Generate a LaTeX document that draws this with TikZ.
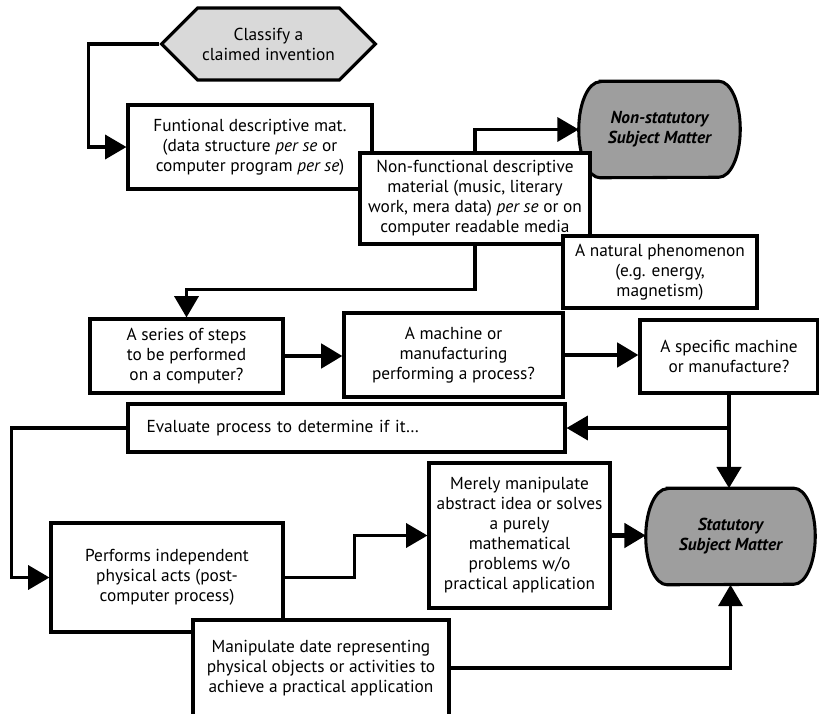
\documentclass[tikz,border=0pt]{standalone}
\usepackage{fontspec}
\setmainfont{PT Sans}
\usetikzlibrary{arrows.meta,shapes.symbols,backgrounds}

\tikzset{
  box/.style={draw, line width=2.3pt, fill=white, align=center, inner sep=2pt},
  start/.style={signal, signal to=west and east, signal pointer angle=90, draw, line width=2.3pt, fill=black!15, align=center},
  term/.style={align=center, font=\fontsize{13}{15}\selectfont\bfseries\itshape, minimum height=72pt},
  termline/.style={draw, line width=2.3pt, fill=black!38},
  link/.style={line width=2.6pt, -{Triangle[length=16pt,width=18pt]}},
  biglink/.style={link, line width=3.6pt},
}

\begin{document}
\begin{tikzpicture}[x=0.75pt, y=-0.75pt, font=\fontsize{13}{15}\selectfont]
\useasboundingbox (0,0) rectangle (819,714);

\node[start, minimum width=152.25pt, minimum height=54pt] (classify) at (268.5,44) {Classify a\\claimed invention};
\node[box, minimum width=183pt, minimum height=63pt] (func) at (250,147) {Funtional descriptive mat.\\(data structure \emph{per se} or\\computer program \emph{per se})};
\node[term, minimum width=120.75pt] (nonstat) at (659.5,129.5) {Non-statutory\\Subject Matter};
\node[box, minimum width=172.5pt, minimum height=68.25pt] (nonfunc) at (475,198.5) {Non-functional descriptive\\material (music, literary\\work, mera data) \emph{per se} or on\\computer readable media};
\node[box, minimum width=145.5pt, minimum height=54pt] (natural) at (660,272) {A natural phenomenon\\(e.g. energy,\\magnetism)};
\node[box, minimum width=144.75pt, minimum height=55.5pt] (series) at (186.5,356) {A series of steps\\to be performed\\on a computer?};
\node[box, minimum width=164.25pt, minimum height=63pt] (machine) at (453.5,355) {A machine or\\manufacturing\\performing a process?};
\node[box, minimum width=133.5pt, minimum height=54.75pt] (specific) at (729,356.5) {A specific machine\\or manufacture?};
\node[box, minimum width=327.75pt, minimum height=36pt, text width=300pt, align=left] (eval) at (346.5,428) {Evaluate process to determine if it\ldots};
\node[box, minimum width=174pt, minimum height=81.75pt] (perf) at (167,577.5) {Performs independent\\physical acts (post-\\computer process)};
\node[box, minimum width=135.75pt, minimum height=108.75pt] (merely) at (519.5,535.5) {Merely manipulate\\abstract idea or solves\\a purely\\mathematical\\problems w/o\\practical application};
\node[term, minimum width=126.75pt] (stat) at (730.5,536.5) {Statutory\\Subject Matter};
\node[box, minimum width=192pt, minimum height=72pt] (manip) at (321,668) {Manipulate date representing\\physical objects or activities to\\achieve a practical application};

\begin{scope}[on background layer]
\foreach \t in {nonstat,stat}
  \draw[termline] ([xshift=16pt]\t.north west) -- ([xshift=-16pt]\t.north east)
    arc[start angle=90, end angle=-90, x radius=16pt, y radius=36pt]
    -- ([xshift=16pt]\t.south west)
    arc[start angle=270, end angle=90, x radius=16pt, y radius=36pt] -- cycle;
\end{scope}

\draw[link] (classify.west) -| ([xshift=-28.5pt]func.west) -- (func.west);
\draw[link] (nonfunc.north) |- (nonstat.west);
\draw[link] (nonfunc.south) |- ([yshift=21pt]series.north) -- (series.north);
\draw[biglink] (series.east) -- (series.east -| machine.west);
\draw[biglink] (machine.east) -- (machine.east -| specific.west);
\draw[biglink] (specific.south) -- (specific.south |- stat.north);
\draw[link] (specific.south |- eval.east) -- (eval.east);
\draw[link] (eval.west) -| ([xshift=-28.5pt]perf.west) -- (perf.west);
\draw[link] (perf.east) -| ([xshift=-54.75pt]merely.west) -- (merely.west);
\draw[biglink] (merely.east) -- (merely.east -| stat.west);
\draw[link] (manip.east) -| (stat.south);
\end{tikzpicture}
\end{document}
